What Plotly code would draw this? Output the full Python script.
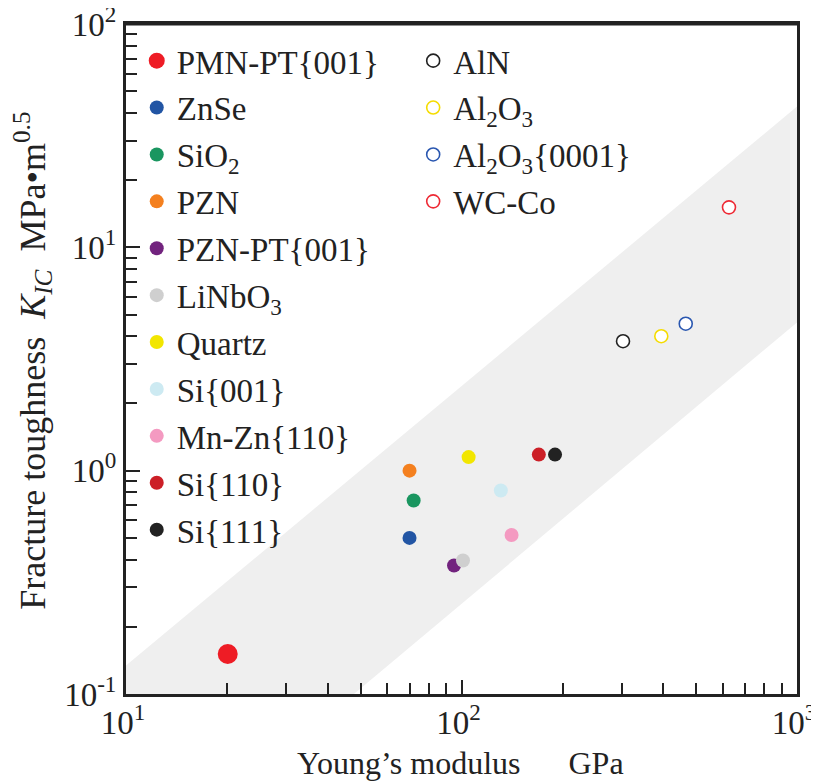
import plotly.graph_objects as go

# ---------------- data ----------------
names_filled = ["PMN-PT{001}", "ZnSe", "SiO<sub>2</sub>", "PZN", "PZN-PT{001}", "LiNbO<sub>3</sub>",
                "Quartz", "Si{001}", "Mn-Zn{110}", "Si{110}", "Si{111}"]
E_filled = [20.1, 70, 72, 70, 95, 101, 105, 131, 141, 170, 190]
K_filled = [0.151, 0.50, 0.735, 1.00, 0.376, 0.396, 1.15, 0.815, 0.515, 1.18, 1.18]
colors_filled = ["#ee1c25", "#2255a4", "#1a9660", "#f4801f", "#72237e", "#cfcfcf",
                 "#f2e600", "#cdeaf2", "#f49ac1", "#cc1f27", "#222222"]

names_open = ["AlN", "Al<sub>2</sub>O<sub>3</sub>", "Al<sub>2</sub>O<sub>3</sub>{0001}", "WC-Co"]
E_open = [303, 394, 466, 627]
K_open = [3.8, 4.0, 4.55, 15.1]
colors_open = ["#222222", "#f5dc00", "#2a57b0", "#ee2a35"]

band_E = [10, 10, 1000, 1000, 47.8]
band_K = [0.1, 0.134, 42.7, 4.61, 0.1]

x_tickvals = [10, 100, 1000]
x_ticktext = ["10<sup>1</sup>", "10<sup>2</sup>", "10<sup>3</sup>"]
y_tickvals = [0.1, 1, 10, 100]
y_ticktext = ["10<sup>-1</sup>", "10<sup>0</sup>", "10<sup>1</sup>", "10<sup>2</sup>"]
minor_vals = [2, 3, 4, 5, 6, 7, 8, 9]

FONT = "Liberation Serif"
INK = "#222222"
NB = "\u00a0"

fig = go.Figure()

fig.add_trace(go.Scatter(x=band_E, y=band_K, mode="lines", fill="toself",
                         fillcolor="#efefef", line=dict(width=0), showlegend=False,
                         hoverinfo="skip"))

for i, (n, e, k, c) in enumerate(zip(names_filled, E_filled, K_filled, colors_filled)):
    size = 20 if i == 0 else 14
    fig.add_trace(go.Scatter(x=[e], y=[k], mode="markers", name=n,
                             marker=dict(size=size, color=c, line=dict(width=0)),
                             legend="legend", legendgroup="f%d" % i))

for i, (n, e, k, c) in enumerate(zip(names_open, E_open, K_open, colors_open)):
    fig.add_trace(go.Scatter(x=[e], y=[k], mode="markers", name=n,
                             marker=dict(size=13, color="white", line=dict(width=1.6, color=c)),
                             legend="legend2", legendgroup="o%d" % i))

minor_x = [m * 10 for m in minor_vals] + [m * 100 for m in minor_vals]
minor_y = [m * 0.1 for m in minor_vals] + [m for m in minor_vals] + [m * 10 for m in minor_vals]

axis_common = dict(type="log", showgrid=False, zeroline=False, showline=True,
                   linecolor=INK, linewidth=3, mirror=True,
                   ticks="inside", ticklen=14, tickwidth=1.5, tickcolor=INK, automargin=False,
                   ticklabeloverflow="allow",
                   tickfont=dict(family=FONT, size=33, color=INK))

fig.update_xaxes(range=[1, 3], tickmode="array", tickvals=x_tickvals, ticktext=x_ticktext,
                 ticklabelstandoff=-3, ticklabelshift=-3,
                 minor=dict(tickmode="array", tickvals=minor_x, ticks="inside", ticklen=11,
                            tickwidth=1.5, tickcolor=INK, showgrid=False),
                 **axis_common)
fig.update_yaxes(range=[-1, 2], tickmode="array", tickvals=y_tickvals, ticktext=y_ticktext,
                 minor=dict(tickmode="array", tickvals=minor_y, ticks="inside", ticklen=11,
                            tickwidth=1.5, tickcolor=INK, showgrid=False),
                 **axis_common)

legend_common = dict(font=dict(family=FONT, size=33, color=INK), bgcolor="rgba(0,0,0,0)",
                     tracegroupgap=1, itemsizing="trace", yanchor="top", xanchor="left")
fig.update_layout(
    width=811, height=774,
    margin=dict(l=118, r=22, t=16, b=88, autoexpand=False),
    plot_bgcolor="white", paper_bgcolor="white",
    legend=dict(x=0.016, y=0.987, **legend_common),
    legend2=dict(x=0.428, y=0.987, **legend_common),
    shapes=[dict(type="line", xref="paper", yref="paper", x0=0, x1=1, y0=1, y1=1,
                 line=dict(color=INK, width=3), layer="above")],
    annotations=[
        dict(text="Young’s modulus" + NB * 6 + "GPa", xref="paper", yref="paper",
             x=0.498, y=-0.103, xanchor="center", yanchor="middle", showarrow=False,
             font=dict(family=FONT, size=32, color=INK)),
        dict(text="Fracture toughness" + NB * 2 + "<i>K</i><sub><i>IC</i></sub>" + NB * 2
                  + "MPa•m<sup>0.5</sup>",
             xref="paper", yref="paper", x=-0.139, y=0.497, textangle=-90,
             xanchor="center", yanchor="middle", showarrow=False,
             font=dict(family=FONT, size=36, color=INK)),
    ],
)

fig.write_html("out.html")
